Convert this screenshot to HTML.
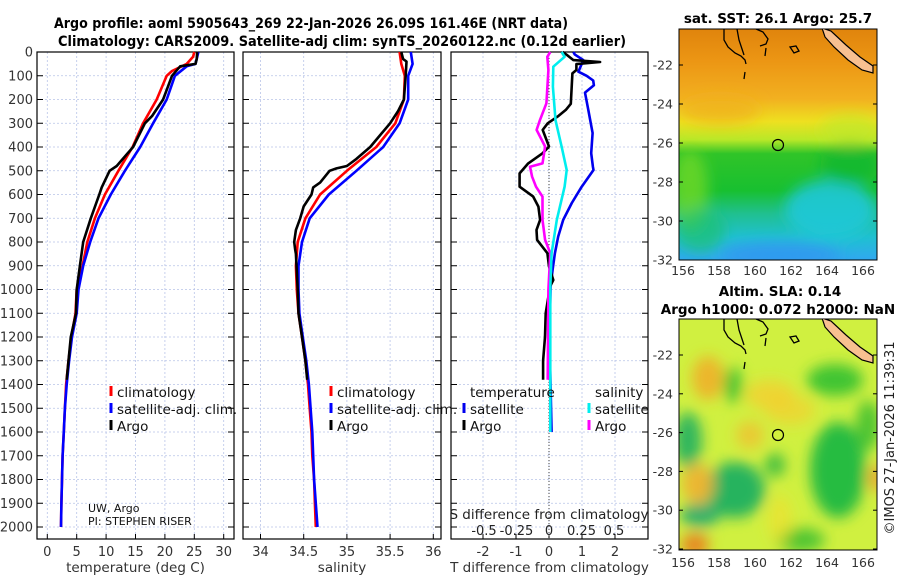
<!DOCTYPE html>
<html><head><meta charset="utf-8"><style>
html,body{margin:0;padding:0;background:#fff;}
svg{display:block;font-family:"DejaVu Sans","Liberation Sans",sans-serif;}
</style></head><body>
<svg id="chart" width="900" height="580" viewBox="0 0 900 580" xmlns="http://www.w3.org/2000/svg">
<defs>
<filter id="blur" x="-20%" y="-20%" width="140%" height="140%"><feGaussianBlur stdDeviation="7"/></filter>
<clipPath id="clipTop"><rect x="679" y="29" width="198" height="231"/></clipPath>
<clipPath id="clipBot"><rect x="679" y="319" width="198" height="231"/></clipPath>
<linearGradient id="sstGrad" x1="0" y1="0" x2="0" y2="1">
<stop offset="0" stop-color="#e0840c"/>
<stop offset="0.14" stop-color="#ec9614"/>
<stop offset="0.3" stop-color="#f2b020"/>
<stop offset="0.4" stop-color="#eee020"/>
<stop offset="0.48" stop-color="#b8e828"/>
<stop offset="0.54" stop-color="#30c428"/>
<stop offset="0.7" stop-color="#18c030"/>
<stop offset="0.8" stop-color="#20c090"/>
<stop offset="0.9" stop-color="#20c0d0"/>
<stop offset="1" stop-color="#30a8f0"/>
</linearGradient>
</defs>
<g font-weight="bold" font-size="14.5" fill="#000" text-anchor="middle">
<text x="311" y="28" textLength="514" lengthAdjust="spacingAndGlyphs">Argo profile: aoml 5905643_269 22-Jan-2026 26.09S 161.46E (NRT data)</text>
<text x="342" y="46" textLength="568" lengthAdjust="spacingAndGlyphs">Climatology: CARS2009. Satellite-adj clim: synTS_20260122.nc (0.12d earlier)</text>
</g>
<g id="axes"></g>
<g id="series"></g>
<g id="texts" font-size="13" fill="#222"></g>
<g>
<g clip-path="url(#clipTop)">
<rect x="679" y="29" width="198" height="231" fill="url(#sstGrad)"/>
<g filter="url(#blur)">
<ellipse cx="690" cy="190" rx="18" ry="40" fill="#70d828" opacity="0.8"/>
<ellipse cx="700" cy="230" rx="25" ry="22" fill="#20c070" opacity="0.7"/>
<ellipse cx="830" cy="210" rx="45" ry="30" fill="#20c8d8" opacity="0.9"/>
<ellipse cx="780" cy="255" rx="60" ry="12" fill="#3098f0" opacity="0.9"/>
<ellipse cx="850" cy="130" rx="30" ry="15" fill="#c0e828" opacity="0.7"/>
<ellipse cx="720" cy="110" rx="40" ry="14" fill="#f0b020" opacity="0.7"/>
<ellipse cx="850" cy="165" rx="30" ry="20" fill="#10b830" opacity="0.8"/>
</g>
</g>
<rect x="679" y="29" width="198" height="231" fill="none" stroke="#000" stroke-width="1"/>
<text x="778" y="23" font-weight="bold" font-size="13.5" text-anchor="middle">sat. SST: 26.1 Argo: 25.7</text>
</g>
<g>
<g clip-path="url(#clipBot)">
<rect x="679" y="319" width="198" height="231" fill="#d0f040"/>
<g filter="url(#blur)">
<ellipse cx="708" cy="378" rx="16" ry="22" fill="#f0b028" opacity="0.9"/>
<ellipse cx="770" cy="395" rx="25" ry="15" fill="#f4d030" opacity="0.8"/>
<ellipse cx="790" cy="410" rx="25" ry="15" fill="#f4d030" opacity="0.7"/>
<ellipse cx="750" cy="435" rx="14" ry="14" fill="#f0c030" opacity="0.8"/>
<ellipse cx="733" cy="385" rx="9" ry="18" fill="#30c030" opacity="0.9"/>
<ellipse cx="838" cy="470" rx="28" ry="48" fill="#20b840" opacity="0.95"/>
<ellipse cx="835" cy="380" rx="28" ry="16" fill="#30c030" opacity="0.9"/>
<ellipse cx="868" cy="425" rx="12" ry="25" fill="#40c030" opacity="0.9"/>
<ellipse cx="688" cy="440" rx="14" ry="28" fill="#20b060" opacity="0.9"/>
<ellipse cx="735" cy="490" rx="30" ry="28" fill="#20b060" opacity="0.95"/>
<ellipse cx="700" cy="515" rx="20" ry="12" fill="#20a870" opacity="0.9"/>
<ellipse cx="698" cy="484" rx="16" ry="20" fill="#f0b030" opacity="0.9"/>
<ellipse cx="695" cy="545" rx="14" ry="12" fill="#e88020" opacity="0.95"/>
<ellipse cx="775" cy="465" rx="10" ry="12" fill="#30b840" opacity="0.9"/>
<ellipse cx="800" cy="540" rx="25" ry="12" fill="#40c030" opacity="0.9"/>
<ellipse cx="877" cy="478" rx="8" ry="14" fill="#f0a030" opacity="0.9"/>
<ellipse cx="780" cy="520" rx="12" ry="25" fill="#f0e030" opacity="0.7"/>
</g>
</g>
<rect x="679" y="319" width="198" height="231" fill="none" stroke="#000" stroke-width="1"/>
<text x="780" y="296" font-weight="bold" font-size="13.5" text-anchor="middle">Altim. SLA: 0.14</text>
<text x="778" y="314" font-weight="bold" font-size="13.5" text-anchor="middle">Argo h1000: 0.072 h2000: NaN</text>
</g>
<g>
<g clip-path="url(#clipTop)">
<polygon points="822,28 831,31 846,45 860,57 873,66 873,73 862,70 848,60 834,47 825,37" fill="#f8c090" stroke="#000" stroke-width="1.2"/>
<path d="M724,29 L724,40 L728,47 L735,53 L741,56 L745,60 L746,64 M737,29 L739,40 L744,55 M756,29 L763,32 L768,39 L766,44 L760,46 M766,48 L765,56 M790,47 L796,46 L799,51 L794,53 Z M745,72 L744,79" fill="none" stroke="#000" stroke-width="1.3"/>
<circle cx="778" cy="145" r="5.5" fill="none" stroke="#000" stroke-width="1.2"/>
</g>
<g clip-path="url(#clipBot)">
<polygon points="822,318 831,321 846,335 860,347 873,356 873,363 862,360 848,350 834,337 825,327" fill="#f8c090" stroke="#000" stroke-width="1.2"/>
<path d="M724,319 L724,330 L728,337 L735,343 L741,346 L745,350 L746,354 M737,319 L739,330 L744,345 M756,319 L763,322 L768,329 L766,334 L760,336 M766,338 L765,346 M790,337 L796,336 L799,341 L794,343 Z M745,362 L744,369" fill="none" stroke="#000" stroke-width="1.3"/>
<circle cx="778" cy="435" r="5.5" fill="none" stroke="#000" stroke-width="1.2"/>
</g>
</g>
<g id="maplabels" font-size="12.5" fill="#333"></g>
<text transform="translate(894,438) rotate(-90)" text-anchor="middle" font-size="13" fill="#222">©IMOS 27-Jan-2026 11:39:31</text>
<script>
const depthTclim = [0,20,50,80,100,200,300,400,500,600,700,800,900,1000,1100,1200,1300,1400,1500,1600,1700,1800,1900,2000];
const tempClim   = [25.0,24.8,23.7,21.2,20.3,18.6,16.3,14.5,12.1,9.8,8.1,6.8,6.0,5.0,4.8,4.1,3.6,3.2,3.0,2.8,2.6,2.5,2.4,2.33];
const depthTsat  = [0,50,60,100,200,300,400,500,600,700,800,900,1000,1100,1200,1300,1400,1500,1600,1700,1800,1900,2000];
const tempSat    = [25.7,25.2,23.7,21.7,20.3,18.0,15.8,13.2,10.8,8.7,7.3,6.1,5.3,5.0,4.2,3.7,3.3,3.0,2.8,2.6,2.5,2.4,2.33];
const depthArgo  = [0,30,50,60,100,200,270,300,400,480,500,570,600,700,800,900,1000,1100,1200,1300,1380];
const tempArgo   = [25.5,25.4,25.2,22.6,21.2,19.7,17.8,16.6,14.6,11.8,10.6,9.25,8.85,7.4,6.1,5.55,5.0,4.88,4.0,3.6,3.3];
const depthSArgo = [0,30,40,100,200,250,300,400,450,480,490,500,550,570,600,650,700,750,800,830,850,1000,1100,1200,1300,1380];
const salArgo    = [35.63,35.65,35.69,35.68,35.66,35.59,35.50,35.27,35.11,35.0,34.88,34.80,34.69,34.61,34.59,34.50,34.46,34.41,34.39,34.40,34.41,34.43,34.44,34.48,34.52,34.54];
const depthS     = [0,50,100,200,300,400,500,600,700,800,900,1000,1100,1200,1300,1400,1500,1600,1700,1800,1900,2000];
const salClim    = [35.61,35.63,35.67,35.66,35.56,35.34,35.0,34.69,34.52,34.43,34.41,34.42,34.44,34.48,34.52,34.55,34.57,34.59,34.60,34.62,34.63,34.64];
const salSat     = [35.74,35.76,35.71,35.71,35.61,35.42,35.11,34.79,34.57,34.48,34.44,34.44,34.45,34.49,34.53,34.56,34.58,34.60,34.61,34.62,34.64,34.66];
const depthDTsat = [0,10,34,83,100,120,140,171,244,341,426,483,497,567,636,707,777,847,917,988,1100,1300,1600];
const dTsat      = [0.74,0.78,1.04,0.89,1.14,1.34,1.36,1.09,1.19,1.32,1.28,1.33,1.35,0.99,0.69,0.43,0.28,0.18,0.11,0.05,0.03,0.03,0.08];
const depthDTargo= [0,13,34,42,51,76,90,218,244,272,300,328,398,426,469,511,567,609,651,707,749,791,847,903,960,988,1100,1200,1300,1380];
const dTargo     = [0.41,0.55,0.74,1.55,0.83,0.83,0.71,0.66,0.51,0.26,-0.04,-0.19,0.0,-0.19,-0.63,-0.89,-0.89,-0.48,-0.32,-0.27,-0.38,-0.36,-0.05,0.0,0.13,0.03,-0.1,-0.12,-0.18,-0.18];
const depthDSsat = [0,20,62,146,287,398,497,567,707,847,988,1200,1600];
const dSsat      = [0.097,0.12,0.033,0.03,0.05,0.097,0.136,0.12,0.06,0.02,0.01,0.01,0.01];
const depthDSargo= [0,20,76,216,287,328,398,469,483,525,567,609,707,791,847,1000,1380];
const dSargo     = [0.01,-0.013,-0.005,-0.02,-0.07,-0.095,-0.03,-0.05,-0.146,-0.13,-0.1,-0.05,-0.05,-0.03,0.01,-0.005,-0.01];
const depthTicks = [0,100,200,300,400,500,600,700,800,900,1000,1100,1200,1300,1400,1500,1600,1700,1800,1900,2000];
const tempTicks  = [0,5,10,15,20,25,30];
const salTicks   = [34,34.5,35,35.5,36];
const dTTicks    = [-2,-1,0,1,2];
const dSTicks    = [-0.5,-0.25,0,0.25,0.5];
const dSTickLabels = ["-0.5","-0.25","0","0.25","0.5"];
const latTicks   = [-22,-24,-26,-28,-30,-32];
const lonTicks   = [156,158,160,162,164,166];

const TOP=52, BOT=539;
const yD = d => TOP + d*0.2375;
const xT = t => 47.3 + t*5.88;
const xS = s => 260.5 + (s-34)*86.4;
const xDT = v => 549 + v*33;
const xDS = v => 549 + v*130;
const yLatTop = l => 65 + (-22 - l)*19.5;
const yLatBot = l => 355 + (-22 - l)*19.4;
const xLon = l => 683 + (l-156)*18;

const NS="http://www.w3.org/2000/svg";
function mk(tag, attrs, parent){const e=document.createElementNS(NS,tag);for(const k in attrs)e.setAttribute(k,attrs[k]);parent.appendChild(e);return e;}
const axes=document.getElementById('axes'), series=document.getElementById('series'), texts=document.getElementById('texts'), ml=document.getElementById('maplabels');

const panels=[
 {x0:37,x1:234,ticks:tempTicks,fx:xT,labels:tempTicks.map(String),name:'temperature-panel',title:'temperature (deg C)'},
 {x0:243,x1:441,ticks:salTicks,fx:xS,labels:salTicks.map(String),name:'salinity-panel',title:'salinity'},
 {x0:451,x1:648,ticks:dTTicks,fx:xDT,labels:dTTicks.map(String),name:'difference-panel',title:'T difference from climatology'}
];
panels.forEach((p,pi)=>{
 const g=mk('g',{},axes);
 
 
 depthTicks.forEach(d=>{
  const l=mk('line',{x1:p.x0,x2:p.x1,y1:yD(d),y2:yD(d),stroke:'#b8c4e8','stroke-width':0.8,'stroke-dasharray':'2,2'},g);
  
  
  mk('line',{x1:p.x0,x2:p.x0+6,y1:yD(d),y2:yD(d),stroke:'#000','stroke-width':1},g);
  mk('line',{x1:p.x1-6,x2:p.x1,y1:yD(d),y2:yD(d),stroke:'#000','stroke-width':1},g);
 });
 p.ticks.forEach((t,i)=>{
  const x=p.fx(t);
  const l=mk('line',{x1:x,x2:x,y1:TOP,y2:BOT,stroke:'#b8c4e8','stroke-width':0.8,'stroke-dasharray':'2,2'},g);
  
  
  mk('line',{x1:x,x2:x,y1:BOT-5,y2:BOT,stroke:'#000','stroke-width':1},g);
  const tx=mk('text',{x:x,y:556,'text-anchor':'middle','font-size':13,fill:'#333'},g);
  tx.textContent=p.labels[i];
  
  
 });
 mk('rect',{x:p.x0,y:TOP,width:p.x1-p.x0,height:BOT-TOP,fill:'none',stroke:'#000','stroke-width':1.2},g);
 const at=mk('text',{x:(p.x0+p.x1)/2,y:572,'text-anchor':'middle','font-size':13.5,fill:'#333'},g);
 at.textContent=p.title;
 
 
});
depthTicks.forEach(d=>{
 const t=mk('text',{x:33,y:yD(d)+4.5,'text-anchor':'end','font-size':13,fill:'#333'},axes);
 t.textContent=String(d);
 
 
});
mk('line',{x1:xDT(0),x2:xDT(0),y1:TOP,y2:BOT,stroke:'#444','stroke-width':1,'stroke-dasharray':'1,2'},axes);
dSTicks.forEach((v,i)=>{
 const t=mk('text',{x:xDS(v),y:535,'text-anchor':'middle','font-size':13,fill:'#222'},axes);
 t.textContent=dSTickLabels[i];
 
 
});
const sdt=mk('text',{x:549,y:519,'text-anchor':'middle','font-size':13.5,fill:'#222'},axes);
sdt.textContent='S difference from climatology';



function line(ds,vs,fx,color,name){
 const pts=ds.map((d,i)=>fx(vs[i]).toFixed(1)+','+yD(d).toFixed(1)).join(' ');
 const pl=mk('polyline',{points:pts,fill:'none',stroke:color,'stroke-width':2.6,'stroke-linejoin':'round'},series);
 
 
}
line(depthTclim,tempClim,xT,'#ff0000','temp-climatology-line');
line(depthTsat,tempSat,xT,'#0000ff','temp-satellite-line');
line(depthArgo,tempArgo,xT,'#000000','temp-argo-line');
line(depthS,salClim,xS,'#ff0000','sal-climatology-line');
line(depthS,salSat,xS,'#0000ff','sal-satellite-line');
line(depthSArgo,salArgo,xS,'#000000','sal-argo-line');
line(depthDTsat,dTsat,xDT,'#0000ee','tdiff-satellite-line');
line(depthDTargo,dTargo,xDT,'#000000','tdiff-argo-line');
line(depthDSargo,dSargo,xDS,'#ff00ff','sdiff-argo-line');
line(depthDSsat,dSsat,xDS,'#00eeee','sdiff-satellite-line');

function leg(x,y,color,label,name){
 const g=mk('g',{},texts);
 
 
 mk('rect',{x:x-1.5,y:y-11,width:3,height:10,fill:color},g);
 const t=mk('text',{x:x+6,y:y,'font-size':13.5,fill:'#111'},g);
 t.textContent=label;
}
leg(111,397,'#ff0000','climatology','legend-climatology');
leg(111,414,'#0000ff','satellite-adj. clim.','legend-satellite-adj');
leg(111,431,'#000','Argo','legend-argo');
leg(331,397,'#ff0000','climatology','legend-climatology-sal');
leg(331,414,'#0000ff','satellite-adj. clim.','legend-satellite-adj-sal');
leg(331,431,'#000','Argo','legend-argo-sal');
const tl=mk('text',{x:470,y:397,'font-size':13.5,fill:'#111'},texts); tl.textContent='temperature';
const sl=mk('text',{x:595,y:397,'font-size':13.5,fill:'#111'},texts); sl.textContent='salinity';
leg(464,414,'#0000ee','satellite','legend-tdiff-satellite');
leg(464,431,'#000','Argo','legend-tdiff-argo');
leg(589,414,'#00eeee','satellite','legend-sdiff-satellite');
leg(589,431,'#ff00ff','Argo','legend-sdiff-argo');
const pi1=mk('text',{x:88,y:512,'font-size':11,fill:'#111'},texts); pi1.textContent='UW, Argo';
const pi2=mk('text',{x:88,y:525,'font-size':11,fill:'#111'},texts); pi2.textContent='PI: STEPHEN RISER';

[[yLatTop,275],[yLatBot,567]].forEach(([fy,ly],k)=>{
 latTicks.forEach(l=>{
  const t=mk('text',{x:673,y:fy(l)+4.5,'text-anchor':'end'},ml);
  t.textContent=String(l);
  
  
  mk('line',{x1:679,x2:683,y1:fy(l),y2:fy(l),stroke:'#000'},ml);
  mk('line',{x1:873,x2:877,y1:fy(l),y2:fy(l),stroke:'#000'},ml);
 });
 lonTicks.forEach(l=>{
  const t=mk('text',{x:xLon(l),y:ly,'text-anchor':'middle'},ml);
  t.textContent=String(l);
  
  
 });
});
</script>
</svg>
</body></html>
